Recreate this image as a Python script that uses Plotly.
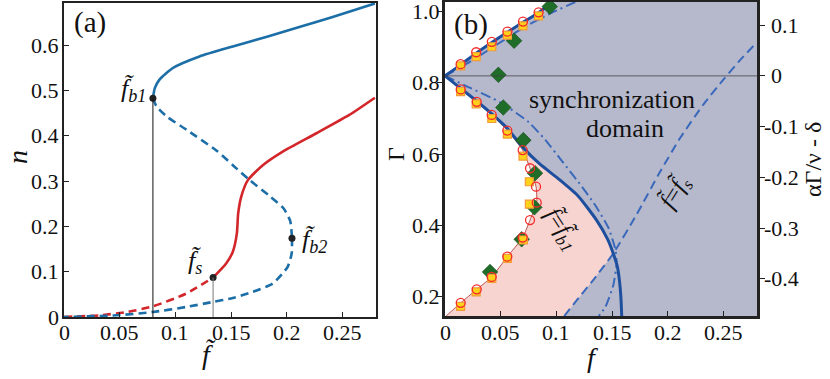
import numpy as np
import plotly.graph_objects as go

W, H = 830, 379
FONT = "Liberation Serif"

# ---------------- panel (a): n versus f~ ----------------
upper_stable_f = [0.0798, 0.0815, 0.0857, 0.0977, 0.1216, 0.1515, 0.1814, 0.2112, 0.2411, 0.2790]
upper_stable_n = [0.483, 0.505, 0.524, 0.5495, 0.575, 0.597, 0.618, 0.640, 0.662, 0.692]

middle_unstable_f = [0.0798, 0.083, 0.092, 0.110, 0.137, 0.152, 0.1667, 0.184, 0.197, 0.203, 0.2046]
middle_unstable_n = [0.483, 0.465, 0.443, 0.413, 0.367, 0.334, 0.302, 0.268, 0.240, 0.212, 0.174]

lower_unstable_f = [0.2046, 0.2043, 0.2007, 0.1873, 0.1694, 0.1515, 0.1335, 0.1096, 0.0798, 0.0469, 0.0]
lower_unstable_n = [0.174, 0.140, 0.1107, 0.0738, 0.0554, 0.0420, 0.0332, 0.0221, 0.0111, 0.0037, 0.0]

red_dashed_f = [0.0, 0.032, 0.0565, 0.0798, 0.1096, 0.1338]
red_dashed_n = [0.0, 0.0037, 0.011, 0.0236, 0.0516, 0.087]

red_solid_f = [0.1338, 0.1455, 0.1515, 0.1551, 0.1563, 0.1590, 0.1650, 0.1784, 0.1963, 0.2261, 0.2560, 0.2790]
red_solid_n = [0.087, 0.118, 0.144, 0.184, 0.228, 0.265, 0.302, 0.335, 0.365, 0.405, 0.446, 0.484]

# bifurcation points f_b1, f_b2, f_s
special_f = [0.0798, 0.2046, 0.1338]
special_n = [0.483, 0.174, 0.087]

a_xticks = [0, 0.05, 0.1, 0.15, 0.2, 0.25]
a_xticktext = ["0", "0.05", "0.1", "0.15", "0.2", "0.25"]
a_yticks = [0, 0.1, 0.2, 0.3, 0.4, 0.5, 0.6]
a_yticktext = ["0", "0.1", "0.2", "0.3", "0.4", "0.5", "0.6"]

# ---------------- panel (b): Gamma versus f ----------------
upper_bound_f = [0.0, 0.014, 0.028, 0.042, 0.056, 0.070, 0.084, 0.096]
upper_bound_g = [0.82, 0.851, 0.884, 0.914, 0.943, 0.971, 0.998, 1.028]

lower_bound_f = [0.0, 0.014, 0.028, 0.042, 0.056, 0.070, 0.085, 0.103, 0.120, 0.136, 0.146, 0.151,
                 0.1547, 0.1565, 0.1578, 0.1586]
lower_bound_g = [0.82, 0.785, 0.750, 0.713, 0.672, 0.618, 0.572, 0.527, 0.480, 0.414, 0.360, 0.320,
                 0.283, 0.245, 0.200, 0.144]

upper_dashdot_f = [0.0, 0.02, 0.045, 0.07, 0.094, 0.117]
upper_dashdot_g = [0.82, 0.855, 0.905, 0.955, 0.995, 1.028]

lower_dashdot_f = [0.0, 0.02, 0.05, 0.075, 0.09, 0.105, 0.12, 0.135, 0.147, 0.153, 0.154, 0.151, 0.144, 0.138]
lower_dashdot_g = [0.82, 0.79, 0.745, 0.69, 0.64, 0.58, 0.52, 0.455, 0.39, 0.33, 0.29, 0.23, 0.17, 0.144]

fs_line_f = [0.107, 0.12, 0.133, 0.151, 0.172, 0.193, 0.211, 0.232, 0.25, 0.265, 0.28]
fs_line_g = [0.144, 0.195, 0.245, 0.320, 0.43, 0.55, 0.645, 0.74, 0.81, 0.865, 0.915]

# simulation points: red circles (lower branch, bottom to top, then upper branch)
circ_low_f = [0.001, 0.0141, 0.0285, 0.0419, 0.0559, 0.0697, 0.0763, 0.0823, 0.0817, 0.0763, 0.0697,
              0.0559, 0.0419, 0.0285, 0.0141]
circ_low_g = [0.144, 0.181, 0.219, 0.254, 0.311, 0.365, 0.414, 0.463, 0.508, 0.560, 0.611,
              0.666, 0.710, 0.747, 0.782]
circ_up_f = [0.014, 0.028, 0.042, 0.056, 0.070, 0.084]
circ_up_g = [0.853, 0.8865, 0.916, 0.9445, 0.973, 0.999]

sq_f = [0.014, 0.028, 0.042, 0.056, 0.070, 0.0757, 0.0757, 0.0703, 0.056, 0.042, 0.028, 0.014,
        0.014, 0.028, 0.042, 0.056, 0.070, 0.084]
sq_g = [0.7755, 0.741, 0.700, 0.656, 0.594, 0.522, 0.459, 0.358, 0.306, 0.250, 0.212, 0.171,
        0.848, 0.874, 0.902, 0.935, 0.961, 0.989]

dia_f = [0.094, 0.062, 0.0479, 0.0523, 0.0703, 0.0808, 0.0802, 0.0688, 0.0404]
dia_g = [1.015, 0.919, 0.823, 0.731, 0.639, 0.546, 0.450, 0.360, 0.268]

b_xticks = [0, 0.05, 0.1, 0.15, 0.2, 0.25]
b_xticktext = ["0", "0.05", "0.1", "0.15", "0.2", "0.25"]
b_yticks = [0.2, 0.4, 0.6, 0.8, 1.0]
b_yticktext = ["0.2", "0.4", "0.6", "0.8", "1.0"]
b_rticks = [-0.4, -0.3, -0.2, -0.1, 0, 0.1]
b_rticktext = ["-0.4", "-0.3", "-0.2", "-0.1", "0", "0.1"]

GAMMA0 = 0.82          # Gamma where the right axis is zero
G_RANGE = [0.144, 1.028]
R_SCALE = 0.7          # right axis = (Gamma - GAMMA0) * R_SCALE
F_MAX = 0.28

BLUE_A = "#1c6ea6"
RED_A = "#d2262b"
BLUE_B = "#1d4f9e"
BLUE_B2 = "#3a68bb"


def px(x):
    return x / W


def py(y):
    return 1 - y / H


fig = go.Figure()

# ----- panel (a) curves -----
def line_a(xs, ys, color, dash="solid", width=2.6):
    fig.add_trace(go.Scatter(x=xs, y=ys, mode="lines", xaxis="x", yaxis="y",
                             line=dict(color=color, width=width, dash=dash, shape="spline", smoothing=0.6)))


line_a(red_dashed_f, red_dashed_n, RED_A, dash="8px,5px")
line_a(lower_unstable_f, lower_unstable_n, BLUE_A, dash="8px,5px")
line_a(middle_unstable_f, middle_unstable_n, BLUE_A, dash="8px,5px")
line_a(upper_stable_f, upper_stable_n, BLUE_A)
line_a(red_solid_f, red_solid_n, RED_A)

fig.add_trace(go.Scatter(x=special_f, y=special_n, mode="markers", xaxis="x", yaxis="y",
                         marker=dict(color="#222222", size=7)))

# ----- panel (b) fills -----
up = np.array(upper_bound_f), np.array(upper_bound_g)
lo = np.array(lower_bound_f), np.array(lower_bound_g)
fs = np.array(fs_line_f), np.array(fs_line_g)
cut = 0.32

# pink: right of the simulation curve, below the point where it meets the boundary
n_pink = 11
pink_x = circ_low_f[:n_pink] + [F_MAX, F_MAX]
pink_y = circ_low_g[:n_pink] + [circ_low_g[n_pink - 1], G_RANGE[0]]
fig.add_trace(go.Scatter(x=pink_x, y=pink_y, mode="lines", fill="toself", xaxis="x2", yaxis="y2",
                         fillcolor="#f7d4d0", line=dict(width=0)))

# grey synchronization domain
m_lo = lo[1] >= cut
m_fs = fs[1] <= cut
gx = list(up[0][::-1]) + list(lo[0][m_lo]) + list(fs[0][m_fs][::-1]) + [F_MAX, F_MAX]
gy = list(up[1][::-1]) + list(lo[1][m_lo]) + list(fs[1][m_fs][::-1]) + [G_RANGE[0], G_RANGE[1]]
fig.add_trace(go.Scatter(x=gx, y=gy, mode="lines", fill="toself", xaxis="x2", yaxis="y2",
                         fillcolor="#b6b9cc", line=dict(width=0)))

# zero line of the right-hand axis (also makes that axis show up)
fig.add_trace(go.Scatter(x=[0, F_MAX], y=[0, 0], mode="lines", xaxis="x2", yaxis="y3",
                         line=dict(color="#444444", width=0.8)))


def line_b(xs, ys, color, dash="solid", width=2.0):
    fig.add_trace(go.Scatter(x=xs, y=ys, mode="lines", xaxis="x2", yaxis="y2",
                             line=dict(color=color, width=width, dash=dash, shape="spline", smoothing=0.5)))


line_b(circ_low_f, circ_low_g, "#a8302c", width=0.8)
line_b(fs_line_f, fs_line_g, BLUE_B2, dash="9px,5px")
line_b(upper_dashdot_f, upper_dashdot_g, BLUE_B2, dash="10px,4px,2px,4px")
line_b(lower_dashdot_f, lower_dashdot_g, BLUE_B2, dash="10px,4px,2px,4px")
line_b(upper_bound_f, upper_bound_g, BLUE_B, width=3)
line_b(lower_bound_f, lower_bound_g, BLUE_B, width=3)

fig.add_trace(go.Scatter(x=dia_f, y=dia_g, mode="markers", xaxis="x2", yaxis="y2", cliponaxis=False,
                         marker=dict(symbol="diamond", size=12, color="#1f6d28",
                                     line=dict(color="#134a1a", width=0.6))))
fig.add_trace(go.Scatter(x=sq_f, y=sq_g, mode="markers", xaxis="x2", yaxis="y2",
                         marker=dict(symbol="square", size=8, color="#ffd21a",
                                     line=dict(color="#f39a3a", width=1.2))))
fig.add_trace(go.Scatter(x=circ_low_f[1:] + circ_up_f, y=circ_low_g[1:] + circ_up_g, mode="markers",
                         xaxis="x2", yaxis="y2",
                         marker=dict(symbol="circle-open", size=9, color="#f52a2a",
                                     line=dict(width=1.3))))

# ----- shapes: guide lines in (a) -----
shapes = [
    dict(type="line", xref="x", yref="y", x0=special_f[0], x1=special_f[0], y0=0, y1=special_n[0],
         line=dict(color="#111111", width=1)),
    dict(type="line", xref="x", yref="y", x0=special_f[2], x1=special_f[2], y0=0, y1=special_n[2],
         line=dict(color="#777777", width=1)),
]

tf = "<i>f\u0303</i>"


def ann(x, y, text, size=24, angle=0, xanchor="center", yanchor="middle", xref="paper", yref="paper"):
    # x, y are pixel positions unless a data axis is given
    return dict(x=px(x) if xref == "paper" else x, y=py(y) if yref == "paper" else y,
                xref=xref, yref=yref, text=text, showarrow=False,
                textangle=angle, xanchor=xanchor, yanchor=yanchor,
                font=dict(family=FONT, size=size, color="#111111"))


annotations = [
    ann(90, 23, "(a)", size=29),
    ann(471, 24, "(b)", size=29),
    ann(18, 157, "<i>n</i>", size=28, angle=-90),
    ann(210, 354, tf, size=28),
    ann(592, 357, "<i>f</i>", size=28),
    ann(396, 154, "\u0393", size=24, angle=-90),
    ann(813, 160, "\u03b1\u0393/\u03bd - \u03b4", size=24, angle=-90),
    ann(148, 90, tf + "<sub><i>b1</i></sub>", size=26, xanchor="right"),
    ann(300, 241, tf + "<sub><i>b2</i></sub>", size=26, xanchor="left"),
    ann(195, 262, tf + "<sub><i>s</i></sub>", size=26),
    ann(612, 99, "synchronization", size=26),
    ann(625, 128, "domain", size=26),
    ann(562, 229, tf + "=" + tf + "<sub><i>b1</i></sub>", size=24, angle=57),
    ann(675, 192, tf + "=" + tf + "<sub><i>s</i></sub>", size=24, angle=-58),
]

# tick labels as serif text
TICK = 22
for v, t in zip(a_xticks, a_xticktext):
    annotations.append(ann(v, 332, t, size=TICK, xref="x"))
for v, t in zip(a_yticks, a_yticktext):
    annotations.append(ann(61, v, t, size=TICK, xanchor="right", yref="y"))
for v, t in zip(b_xticks, b_xticktext):
    annotations.append(ann(v, 332, t, size=TICK, xref="x2"))
for v, t in zip(b_yticks, b_yticktext):
    annotations.append(ann(442, v, t, size=TICK, xanchor="right", yref="y2"))
for v, t in zip(b_rticks, b_rticktext):
    annotations.append(ann(762 if v < 0 else 769, v, t, size=TICK, xanchor="left", yref="y3"))


def axis(**kw):
    base = dict(showline=True, linecolor="#222222", mirror=True, showgrid=False, zeroline=False,
                tickmode="array", tickcolor="#222222", ticklen=5, tickwidth=1.2, automargin=False,
                showticklabels=False)
    base.update(kw)
    return base


fig.update_layout(
    width=W,
    height=H,
    template="none",
    font=dict(family=FONT, size=22, color="black"),
    showlegend=False,
    margin=dict(l=0, r=0, t=0, b=0),
    paper_bgcolor="white",
    plot_bgcolor="white",
    xaxis=axis(domain=[px(64), px(376)], range=[0, F_MAX], anchor="y", ticks="inside",
               tickvals=a_xticks, linewidth=2),
    yaxis=axis(domain=[py(317), py(3)], range=[0, 0.693], anchor="x", ticks="inside",
               tickvals=a_yticks, linewidth=2),
    xaxis2=axis(domain=[px(445), px(757)], range=[0, F_MAX], anchor="y2", ticks="inside",
                tickvals=b_xticks, linewidth=2.6),
    yaxis2=axis(domain=[py(316), py(2)], range=G_RANGE, anchor="x2", ticks="outside",
                tickvals=b_yticks, linewidth=2.6),
    yaxis3=axis(overlaying="y2", anchor="x2", side="right", ticks="outside",
                range=[(G_RANGE[0] - GAMMA0) * R_SCALE, (G_RANGE[1] - GAMMA0) * R_SCALE],
                tickvals=b_rticks, linewidth=2.6),
    shapes=shapes,
    annotations=annotations,
)

# the page's default body margin would shift the figure by 8px
fig.write_html("out.html", config={"displayModeBar": False},
               post_script="document.body.style.margin='0px';")
